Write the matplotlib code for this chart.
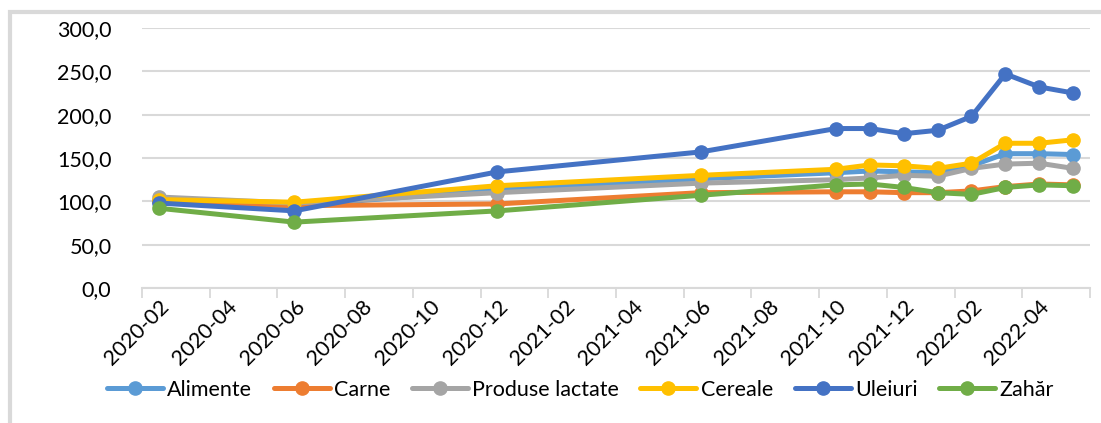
import matplotlib.pyplot as plt
from matplotlib.patches import Rectangle
from matplotlib.ticker import FuncFormatter

# data
months = ["2020-02", "2020-06", "2020-12", "2021-06", "2021-10", "2021-11",
          "2021-12", "2022-01", "2022-02", "2022-03", "2022-04", "2022-05"]
alimente = [100, 95, 113, 126, 133, 135, 134, 133, 141, 155, 155, 154]
carne = [100, 95, 97, 110, 111, 111, 110, 110, 112, 117, 120, 119]
produse_lactate = [105, 98, 110, 121, 125, 127, 130, 129, 138, 143, 144, 138]
cereale = [102, 99, 118, 130, 137, 142, 141, 138, 144, 167, 167, 171]
uleiuri = [98, 89, 134, 157, 184, 184, 178, 182, 198, 247, 232, 225]
zahar = [92, 76, 89, 107, 119, 120, 116, 110, 108, 116, 119, 118]
tick_labels = ["2020-02", "2020-04", "2020-06", "2020-08", "2020-10", "2020-12",
               "2021-02", "2021-04", "2021-06", "2021-08", "2021-10", "2021-12",
               "2022-02", "2022-04"]

def month_index(s):
    y, m = s.split("-")
    return (int(y) - 2020) * 12 + int(m) - 2

x = [month_index(m) + 0.5 for m in months]

series = [("Alimente", alimente, "#5B9BD5"),
          ("Carne", carne, "#ED7D31"),
          ("Produse lactate", produse_lactate, "#A5A5A5"),
          ("Cereale", cereale, "#FFC000"),
          ("Uleiuri", uleiuri, "#4472C4"),
          ("Zahăr", zahar, "#70AD47")]

plt.rcParams['font.family'] = ['Lato', 'DejaVu Sans']

fig = plt.figure(figsize=(11.01, 4.23), dpi=100)
fig.patches.append(Rectangle((10 / 1101, -0.1), 1.2, 1 - 12 / 423 + 0.1,
                             transform=fig.transFigure, fill=False,
                             edgecolor="#D9D9D9", linewidth=3))
ax = fig.add_axes([142 / 1101, 1 - 288 / 423, (1090 - 142) / 1101, (288 - 28) / 423])

for name, vals, col in series:
    ax.plot(x, vals, color=col, linewidth=3.6, marker="o", markersize=9.5,
            label=name, solid_capstyle="round")

ax.set_xlim(0, 28)
ax.set_ylim(0, 300)
ax.set_yticks(range(0, 301, 50))
ax.yaxis.set_major_formatter(FuncFormatter(lambda v, p: f"{v:.1f}".replace(".", ",")))
ax.set_xticks(range(0, 29, 2))
ax.set_xticklabels([])
ax.set_xticks([month_index(t) + 0.5 for t in tick_labels], minor=True)
ax.set_xticklabels(tick_labels, minor=True, rotation=45, ha="right", va="top",
                   rotation_mode="anchor", fontsize=15.5)
ax.tick_params(axis="x", which="major", length=7, width=1.3, color="#D9D9D9")
ax.tick_params(axis="x", which="minor", length=0, pad=6)
ax.tick_params(axis="y", length=0, labelsize=15.5, pad=22)
ax.grid(axis="y", color="#D9D9D9", linewidth=1.5)
ax.set_axisbelow(True)
for s in ["top", "right", "left"]:
    ax.spines[s].set_visible(False)
ax.spines["bottom"].set_color("#D9D9D9")
ax.spines["bottom"].set_linewidth(1.5)

fig.legend(loc="center", bbox_to_anchor=(0.527, 1 - 390 / 423), ncol=6, frameon=False,
           fontsize=15.5, handlelength=2.6, handletextpad=0.2, columnspacing=1.0)

fig.savefig("out.png", dpi=100)
